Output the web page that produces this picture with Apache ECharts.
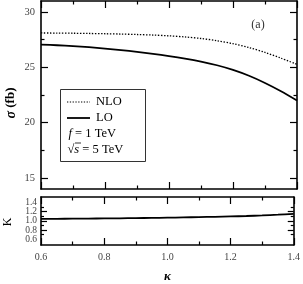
<!DOCTYPE html>
<html>
<head>
<meta charset="utf-8">
<script src="https://cdn.jsdelivr.net/npm/echarts@6/dist/echarts.min.js"></script>
<style>html,body{margin:0;padding:0;background:#fff}#c{width:303px;height:284px}</style>
</head>
<body>
<div id="c"></div>
<script>
const kappa = [0.6, 0.65, 0.7, 0.75, 0.8, 0.85, 0.9, 0.95, 1.0, 1.05, 1.1, 1.15, 1.2, 1.25, 1.3, 1.35, 1.4];
const nloSigma = [28.11, 28.10, 28.085, 28.065, 28.04, 28.01, 27.97, 27.92, 27.85, 27.75, 27.61, 27.41, 27.14, 26.79, 26.35, 25.83, 25.27];
const loSigma = [27.06, 27.0, 26.92, 26.82, 26.70, 26.56, 26.40, 26.22, 26.02, 25.79, 25.52, 25.19, 24.77, 24.24, 23.59, 22.84, 22.0];
const kFactor = [1.04, 1.042, 1.045, 1.047, 1.05, 1.053, 1.057, 1.061, 1.066, 1.072, 1.078, 1.085, 1.093, 1.102, 1.114, 1.13, 1.15];
const xMajor = [0.6, 0.8, 1.0, 1.2, 1.4];
const xMinor = [0.7, 0.9, 1.1, 1.3];
const sigmaMajor = [15, 20, 25, 30];
const sigmaMinor = [17.5, 22.5, 27.5];
const kLabelsA = [0.6, 1.0, 1.4];
const kLabelsB = [0.8, 1.2];
const kMajor = [0.8, 1.0, 1.2];
const kMinor = [0.7, 0.9, 1.1, 1.3];

const FONT = 'Liberation Serif';
const LBL = '#444';
const pairs = (ys) => kappa.map((k, i) => [k, ys[i]]);

function xAx(grid, pos, ticks, len, opts) {
  return Object.assign({
    type: 'value', gridIndex: grid, position: pos, min: 0.6, max: 1.4,
    axisLine: { show: false },
    axisTick: { show: true, inside: true, length: len, customValues: ticks, lineStyle: { color: '#000', width: 1.2 } },
    axisLabel: { show: false },
    splitLine: { show: false }
  }, opts || {});
}
function yAx(grid, pos, mn, mx, ticks, len, opts) {
  return Object.assign({
    type: 'value', gridIndex: grid, position: pos, min: mn, max: mx,
    axisLine: { show: false },
    axisTick: { show: true, inside: true, length: len, customValues: ticks, lineStyle: { color: '#000', width: 1.2 } },
    axisLabel: { show: false },
    splitLine: { show: false }
  }, opts || {});
}
function kLabelAxis(vals) {
  return yAx(1, 'left', 0.48, 1.51, vals, 0, {
    axisTick: { show: false },
    axisLabel: { show: true, interval: 0, customValues: vals, formatter: v => v.toFixed(1), color: LBL, fontFamily: FONT, fontSize: 9.5, margin: 4, hideOverlap: false }
  });
}
const frameLine = { show: true, onZero: false, lineStyle: { color: '#000', width: 1.6 } };

const chart = echarts.init(document.getElementById('c'), null, { renderer: 'canvas' });
chart.setOption({
  animation: false,
  backgroundColor: '#fff',
  grid: [
    { left: 41, right: 6, top: 1, height: 188 },
    { left: 41, right: 6, top: 197, height: 52 }
  ],
  xAxis: [
    xAx(0, 'bottom', xMajor, 7, { axisLine: frameLine }),
    xAx(0, 'bottom', xMinor, 3.5),
    xAx(0, 'top', xMajor, 7, { axisLine: frameLine }),
    xAx(0, 'top', xMinor, 3.5),
    xAx(1, 'bottom', xMajor, 7, {
      axisLine: frameLine,
      axisLabel: { show: true, interval: 0, customValues: xMajor, formatter: v => v.toFixed(1), color: LBL, fontFamily: FONT, fontSize: 10, margin: 7, hideOverlap: false },
      name: 'κ', nameLocation: 'middle', nameGap: 25,
      nameTextStyle: { fontFamily: FONT, fontSize: 13, fontWeight: 'bold', fontStyle: 'italic', color: '#000' }
    }),
    xAx(1, 'bottom', xMinor, 3.5),
    xAx(1, 'top', xMajor, 7, { axisLine: frameLine }),
    xAx(1, 'top', xMinor, 3.5)
  ],
  yAxis: [
    yAx(0, 'left', 14, 31, sigmaMajor, 7, {
      axisLine: frameLine,
      axisLabel: { show: true, interval: 0, customValues: sigmaMajor, color: LBL, fontFamily: FONT, fontSize: 10.5, margin: 6 }
    }),
    yAx(0, 'left', 14, 31, sigmaMinor, 3.5),
    yAx(0, 'right', 14, 31, sigmaMajor, 7, { axisLine: frameLine }),
    yAx(0, 'right', 14, 31, sigmaMinor, 3.5),
    yAx(1, 'left', 0.48, 1.51, kMajor, 6, { axisLine: frameLine }),
    yAx(1, 'left', 0.48, 1.51, kMinor, 3),
    yAx(1, 'right', 0.48, 1.51, kMajor, 6, { axisLine: frameLine }),
    yAx(1, 'right', 0.48, 1.51, kMinor, 3),
    kLabelAxis(kLabelsA),
    kLabelAxis(kLabelsB)
  ],
  series: [
    { name: 'NLO', type: 'line', xAxisIndex: 0, yAxisIndex: 0, data: pairs(nloSigma), smooth: 0.3, showSymbol: false,
      lineStyle: { color: '#000', width: 1.3, type: [1.4, 1.6] } },
    { name: 'LO', type: 'line', xAxisIndex: 0, yAxisIndex: 0, data: pairs(loSigma), smooth: 0.3, showSymbol: false,
      lineStyle: { color: '#000', width: 1.8 } },
    { name: 'K', type: 'line', xAxisIndex: 4, yAxisIndex: 4, data: pairs(kFactor), smooth: 0.3, showSymbol: false,
      lineStyle: { color: '#000', width: 1.8 } }
  ],
  graphic: [
    { type: 'rect', shape: { x: 60.5, y: 89.5, width: 85, height: 72 }, style: { fill: '#fff', stroke: '#333', lineWidth: 1 }, z: 10 },
    { type: 'line', shape: { x1: 67, y1: 102, x2: 90, y2: 102 }, style: { stroke: '#000', lineWidth: 1.2, lineDash: [1.3, 1.5] }, z: 11 },
    { type: 'line', shape: { x1: 67, y1: 118, x2: 90, y2: 118 }, style: { stroke: '#000', lineWidth: 1.8 }, z: 11 },
    { type: 'text', x: 96, y: 102, style: { text: 'NLO', font: '12.5px "Liberation Serif"', fill: '#000', verticalAlign: 'middle' }, z: 11 },
    { type: 'text', x: 96, y: 118, style: { text: 'LO', font: '12.5px "Liberation Serif"', fill: '#000', verticalAlign: 'middle' }, z: 11 },
    { type: 'text', x: 68.5, y: 134, style: {
        text: '{i|f} = 1 TeV', font: '12.5px "Liberation Serif"', fill: '#000', verticalAlign: 'middle',
        rich: { i: { fontStyle: 'italic', fontFamily: FONT, fontSize: 12.5 } } }, z: 11 },
    { type: 'text', x: 67.5, y: 150, style: {
        text: '√{i|s} = 5 TeV', font: '12.5px "Liberation Serif"', fill: '#000', verticalAlign: 'middle',
        rich: { i: { fontStyle: 'italic', fontFamily: FONT, fontSize: 12.5 } } }, z: 11 },
    { type: 'line', shape: { x1: 75, y1: 143, x2: 81, y2: 143 }, style: { stroke: '#000', lineWidth: 0.8 }, z: 11 },
    { type: 'text', x: 258, y: 25, style: { text: '(a)', font: '12px "Liberation Serif"', fill: '#333', align: 'center', verticalAlign: 'middle' } },
    { type: 'text', x: 11, y: 103, rotation: Math.PI / 2, style: {
        text: '{s|σ} (fb)', font: 'bold 13px "Liberation Serif"', fill: '#000', align: 'center', verticalAlign: 'middle',
        rich: { s: { fontStyle: 'italic', fontWeight: 'bold', fontFamily: FONT, fontSize: 14 } } } },
    { type: 'text', x: 8, y: 222, rotation: Math.PI / 2, style: { text: 'K', font: '12px "Liberation Serif"', fill: '#000', align: 'center', verticalAlign: 'middle' } }
  ]
});
</script>
</body>
</html>
